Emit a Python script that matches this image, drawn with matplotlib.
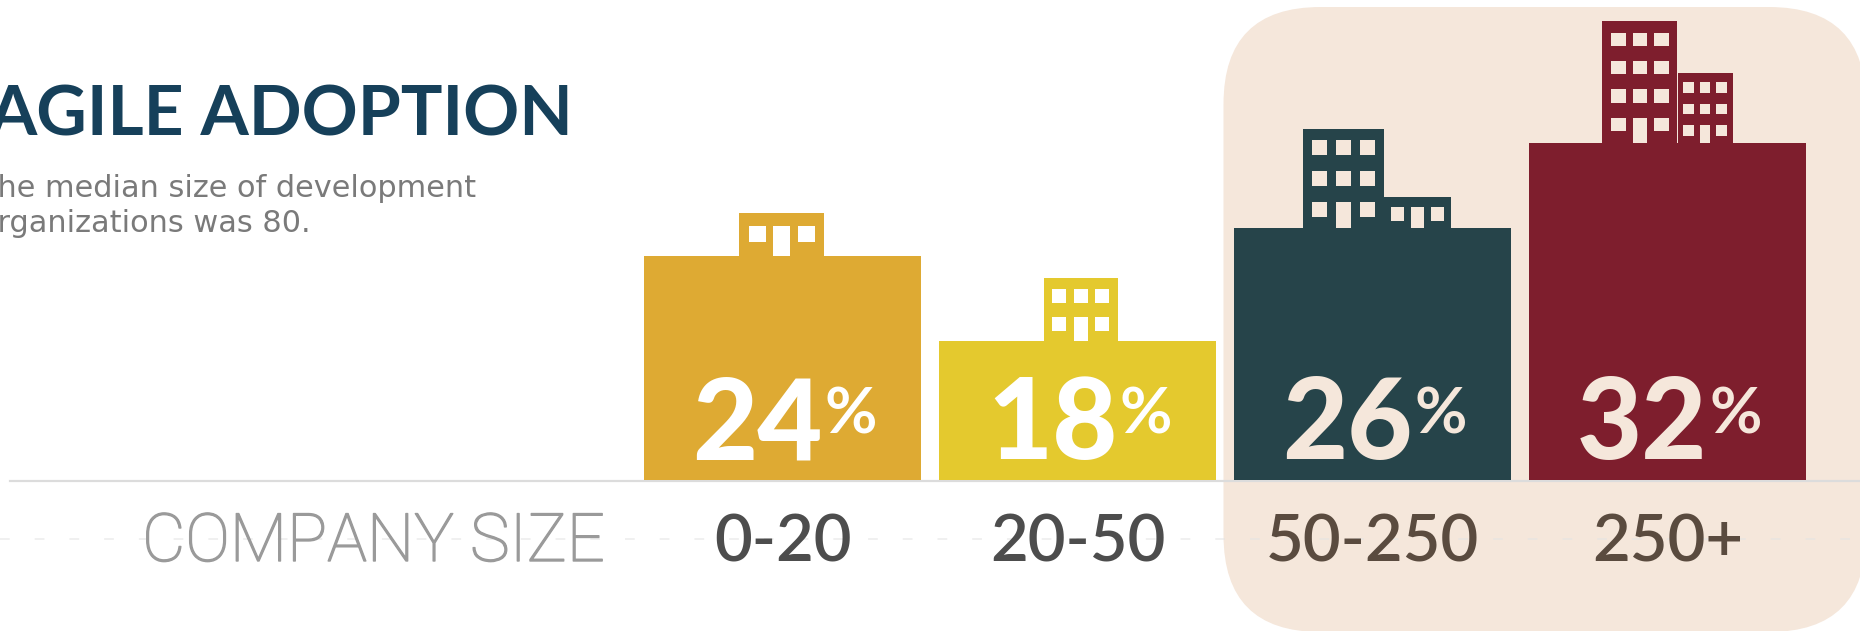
import matplotlib
matplotlib.use("Agg")
import matplotlib.pyplot as plt
import matplotlib.patheffects as pe
from matplotlib.patches import Rectangle, FancyBboxPatch
from matplotlib.lines import Line2D

# ---- data -------------------------------------------------------------
categories = ["0-20", "20-50", "50-250", "250+"]
adoption_pct = [24, 18, 26, 32]
axis_label = "COMPANY SIZE"
title = "AGILE ADOPTION"
subtitle_lines = ["The median size of development", "organizations was 80."]

# ---- style ------------------------------------------------------------
BAR_COLORS = ["#DEAA33", "#E4C92E", "#26444A", "#7E1E2D"]
LABEL_COLORS = ["#4D4D4D", "#4D4D4D", "#5A4B3F", "#5A4B3F"]
INK_COLORS = ["#FFFFFF", "#FFFFFF", "#F5E7DB", "#F5E7DB"]
HIGHLIGHT = "#F5E7DB"
TITLE_COLOR = "#16405A"
SUB_COLOR = "#7A7A7A"
AXIS_LABEL_COLOR = "#9A9A9A"

# building silhouettes on top of each bar, in pixels relative to the bar's
# left edge and top: (left, width, height, rows, win_w, win_h, pitch_x, pitch_y, first_row)
BUILDINGS = [
    [(95.5, 85, 43, 1, 17, 16, 24.5, 0, 14.7)],
    [(104.7, 74, 63, 2, 14, 14, 21.3, 27.7, 10.3)],
    [(69, 81, 98.7, 3, 15.5, 15.6, 23.8, 31, 10.7),
     (150, 66.6, 30.7, 1, 13.3, 13.4, 20, 0, 7.3)],
    [(73.5, 75, 121.7, 4, 14.5, 13.3, 21.7, 28.3, 12),
     (148.6, 55, 70, 3, 10.5, 10.7, 16.6, 21.7, 7)],
]

DPI = 100
W, H = 1860, 631
BASE_Y = 480          # baseline, px from top
PX_PER_PCT = 14.16
AXIS_FLOOR = 8.2
SLOT_PX = 295
FIRST_CENTER_PX = 782.5
BAR_W = 0.939

plt.rcParams["lines.scale_dashes"] = False

fig = plt.figure(figsize=(W / DPI, H / DPI), dpi=DPI)
fig.patch.set_facecolor("white")


def pixel_axes(z):
    a = fig.add_axes([0, 0, 1, 1], zorder=z)
    a.set_xlim(0, W)
    a.set_ylim(H, 0)
    a.axis("off")
    return a


# background layer and text layer in pixel coordinates (y grows downward)
bg = pixel_axes(0)
fg = pixel_axes(2)

# bar layer
ax = fig.add_axes([0, (H - BASE_Y) / H, 1, BASE_Y / H], zorder=1)
ax.axis("off")
ax.set_xlim(-FIRST_CENTER_PX / SLOT_PX, (W - FIRST_CENTER_PX) / SLOT_PX)
ax.set_ylim(AXIS_FLOOR, AXIS_FLOOR + BASE_Y / PX_PER_PCT)

renderer = fig.canvas.get_renderer()


def to_px(x, y):
    dx, dy = ax.transData.transform((x, y))
    return dx, H - dy


# highlighted band behind the two largest groups
hl_left = to_px(2 - BAR_W / 2, 0)[0] - 10.5
bg.add_patch(FancyBboxPatch((hl_left, 7), W + 6 - hl_left, 625,
                            boxstyle="round,pad=0,rounding_size=97",
                            facecolor=HIGHLIGHT, edgecolor="none", zorder=0))

# faint dashed guide through the category labels
bg.add_line(Line2D([0, W], [539, 539], color="#E4E4E4", lw=1.1,
                   dashes=(7, 18), dash_capstyle="butt", zorder=1, alpha=0.7))
# baseline
bg.add_line(Line2D([10, W], [481, 481], color="#DCDCDC", lw=1.6, zorder=1))

# bars
x = list(range(len(categories)))
ax.bar(x, adoption_pct, width=BAR_W, color=BAR_COLORS, linewidth=0, zorder=2)

# buildings
dx_px = 1 / SLOT_PX
dy_px = 1 / PX_PER_PCT
for i, v in enumerate(adoption_pct):
    left = i - BAR_W / 2
    for (tl, tw, th, rows, ww, wh, pxp, pyp, fr) in BUILDINGS[i]:
        ax.add_patch(Rectangle((left + tl * dx_px, v), tw * dx_px, th * dy_px,
                               facecolor=BAR_COLORS[i], linewidth=0, zorder=2))
        cx = tl + tw / 2
        for r in range(rows):
            y0 = fr + r * pyp
            for c in (-1, 0, 1):
                x0 = cx + c * pxp - ww / 2
                if r == 0 and c == 0:
                    yb, hh = 0, y0 + wh
                else:
                    yb, hh = y0, wh
                ax.add_patch(Rectangle((left + x0 * dx_px, v + yb * dy_px),
                                       ww * dx_px, hh * dy_px,
                                       facecolor=INK_COLORS[i], linewidth=0,
                                       zorder=3))


def width_of(t):
    return t.get_window_extent(renderer=renderer).width


# value labels: big number + smaller raised percent sign, centred on the bar
for i, v in enumerate(adoption_pct):
    cx = to_px(i, 0)[0]
    num = fg.text(0, 459, f"{v}", fontsize=81, family="Lato", weight="black",
                  color=INK_COLORS[i], ha="left", va="baseline", zorder=5)
    pct = fg.text(0, 434, "%", fontsize=46, family="Lato", weight="bold",
                  color=INK_COLORS[i], ha="left", va="baseline", zorder=5)
    wn, wp = width_of(num), width_of(pct)
    gap = 2
    x0 = cx - (wn + gap + wp) / 2 + 2
    num.set_x(x0)
    pct.set_x(x0 + wn + gap)

# category labels
for i, c in enumerate(categories):
    cx = to_px(i, 0)[0]
    fg.text(cx, 561, c, fontsize=47, family="Lato", weight="semibold",
            color=LABEL_COLORS[i], ha="center", va="baseline", zorder=5)

al = fg.text(373.5, 561, axis_label, fontsize=44, family="Roboto", weight="light",
             color=AXIS_LABEL_COLOR, ha="center", va="baseline", zorder=5,
             path_effects=[pe.withStroke(linewidth=1.0,
                                         foreground=AXIS_LABEL_COLOR)])
al.set_fontsize(44 * 463 / width_of(al))

# title, right-aligned so it runs off the left edge
tt = fg.text(573, 135, title, fontsize=50, family="Lato", weight="bold",
             color=TITLE_COLOR, ha="right", va="baseline", zorder=5)
tt.set_fontsize(50 * 585 / width_of(tt))

# two-line note: right edge of the first line fixed, second line flush left;
# the leading letters run past the left edge of the figure
s1 = fg.text(476, 197, subtitle_lines[0], fontsize=17, family="DejaVu Sans",
             color=SUB_COLOR, ha="right", va="baseline", zorder=5)
tail = fg.text(476, 197, subtitle_lines[0][1:], fontsize=17,
               family="DejaVu Sans", ha="right", va="baseline")
size = 17 * 479 / width_of(tail)
tail.remove()
s1.set_fontsize(size)
s1_left = s1.get_window_extent(renderer=renderer).x0
fg.text(s1_left, 232, subtitle_lines[1], fontsize=size,
        family="DejaVu Sans", color=SUB_COLOR, ha="left", va="baseline",
        zorder=5)

fig.savefig("out.png", dpi=DPI, facecolor="white")
